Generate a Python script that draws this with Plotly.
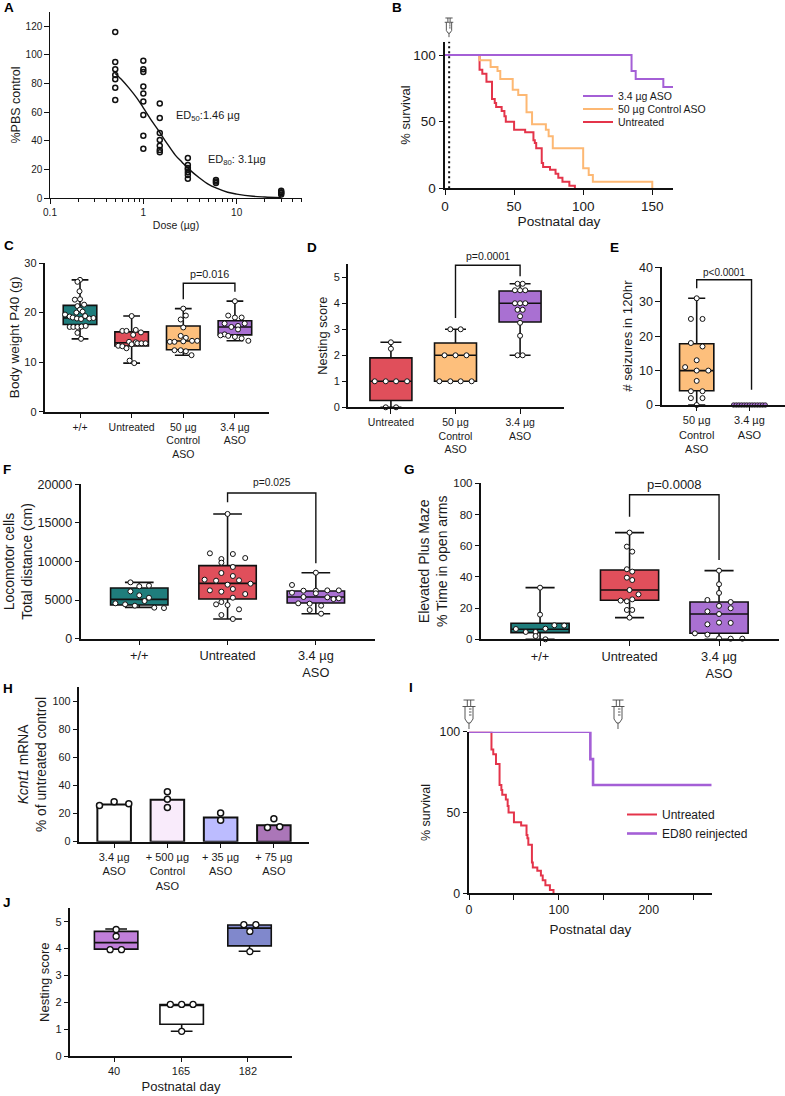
import plotly.graph_objects as go

W, H = 785, 1096
FONT = "Liberation Sans"
INK = "#1a1a1a"
TEAL, RED, ORANGE, PURPLE = "#1f7d7c", "#e04f5b", "#fdbf7c", "#a970d2"
LRED, LORANGE, LPURPLE = "#e4344a", "#fdb873", "#a45fd6"

# ---------- Panel A ----------
a_dose = [0.5]*7 + [1]*9 + [1.5]*7 + [3]*7 + [6]*3 + [30]*4
a_pct = [116, 95, 90, 86, 83, 77, 68.5,
         96, 90, 88, 78, 73, 67.5, 58, 43.5, 34.5,
         66, 56, 45.5, 40.5, 36.5, 33.5, 32,
         28, 23, 21, 20, 18, 16, 13.5,
         12.5, 11.5, 10.5,
         5, 4, 3.5, 2.5]
a_fit_x = [0.5, 0.6, 0.7, 0.85, 1, 1.2, 1.46, 1.8, 2.2, 2.6, 3.1, 4, 5, 6, 8, 10, 15, 20, 30]
a_fit_y = [87, 82, 77, 70, 63, 55, 47, 38, 30, 25, 20, 14, 9.5, 7, 4, 2.7, 1.2, 0.7, 0.2]

# ---------- Panel B / I survival ----------
b_aso_x = [0, 135, 138, 158, 165]
b_aso_y = [100, 88, 82, 76, 76]
b_ctl_x = [0, 25, 33, 38, 40, 49, 53, 59, 63, 73, 75, 78, 100, 104, 107, 150]
b_ctl_y = [100, 96, 91, 88, 82, 74, 70, 57, 48, 44, 39, 30, 15, 10, 5, 0]
unt_x = [0, 25, 27, 30, 34, 36, 37, 41, 43, 44, 50, 58, 64, 65, 66, 70, 71, 76, 80, 82, 85, 90, 94]
unt_y = [100, 89, 86, 80, 67, 64, 61, 58, 54, 50, 44, 42, 36, 34, 30, 19, 16, 14, 11, 8, 5, 2, 0]
i_ed80_x = [0, 135, 138, 270]
i_ed80_y = [100, 83, 67, 67]

# ---------- Panel C ----------
c_labels = ["+/+", "Untreated", "50 µg<br>Control<br>ASO", "3.4 µg<br>ASO"]
c_q1 = [17.6, 13.25, 12.5, 15.5]
c_med = [18.9, 13.9, 14.25, 17.1]
c_q3 = [21.45, 16.1, 17.3, 18.35]
c_lo = [14.7, 9.8, 11.4, 14.3]
c_hi = [26.6, 19.3, 20.8, 22.3]
c_dx = [[0, -.05, -.01, -.1, 0, -.05, .08, 0, -.07, .05, -.29, -.2, -.14, -.06, .02, .1, .18, .26, -.2, -.13, -.05, .03, .11, -.05, .02],
        [0, -.18, -.1, .08, .18, .03, -.05, .08, 0, .11, .19, .27, -.26, -.18, -.1, -.04, .05],
        [0, .05, -.05, 0, -.05, .05, -.26, -.17, 0, .17, .27, -.17, -.05, .05, .16],
        [0, -.13, 0, .13, -.2, -.07, .06, .06, .19, -.2, -.28, -.13, 0, .13, .26]]
c_dy = [[26.6, 26.2, 24.3, 22.6, 22.7, 21.3, 21.6, 20.6, 20, 20.2, 19.6, 19.2, 19, 18.8, 18.7, 19.3, 18.8, 18.9, 17.1, 17.1, 17.1, 17.2, 17.3, 15.9, 14.7],
        [19.3, 16.3, 16.3, 16.5, 16, 15.5, 14.1, 14, 13.6, 13.8, 13.8, 13.8, 13.3, 13.2, 12.8, 10.3, 9.8],
        [20.8, 19.4, 18.6, 17, 15.3, 14.9, 14.1, 14.1, 14.2, 14.3, 14.3, 12.4, 12.4, 12.2, 11.4],
        [22.3, 19.4, 19, 19, 17.8, 17.1, 17.3, 16.6, 17.8, 15.6, 15.4, 15.3, 15.1, 14.8, 14.3]]
c_bx, c_by = [2, 2, 3, 3], [22.7, 25.9, 25.9, 24.2]

# ---------- Panel D ----------
d_labels = ["Untreated", "50 µg<br>Control<br>ASO", "3.4 µg<br>ASO"]
d_q1 = [0.26, 1, 3.28]
d_med = [1, 2, 4]
d_q3 = [1.9, 2.47, 4.47]
d_lo = [0, 1, 2]
d_hi = [2.5, 3, 4.75]
d_dx = [[0, 0, -.25, -.08, .08, .25, -.08, .08],
        [-.08, .08, -.17, 0, .17, -.25, -.08, .08, .25],
        [-.04, .04, -.08, 0, .08, -.08, 0, .08, -.04, .04, 0, 0, 0, -.04, .04]]
d_dy = [[2.5, 2.25, 1, 1, 1, 1, 0, 0],
        [3, 3, 2, 2, 2, 1, 1, 1, 1],
        [4.75, 4.75, 4.5, 4.5, 4.5, 4, 4, 4, 3.75, 3.75, 3.5, 3.25, 2.75, 2, 2]]
d_bx, d_by = [1, 1, 2, 2], [3.43, 5.46, 5.46, 5.04]

# ---------- Panel E ----------
e_labels = ["50 µg<br>Control<br>ASO", "3.4 µg<br>ASO"]
e_q1, e_med, e_q3, e_lo, e_hi = [4.16], [10], [17.8], [0], [31]
e_dx = [0, -.11, .11, -.11, .11, 0, -.22, 0, .22, 0, -.11, .11, -.11, .11, 0]
e_dy = [31, 25, 25, 18, 17, 13, 11, 10, 10, 7, 4, 4, 2, 2, 0]
e_aso_dx = [-.3, -.25, -.2, -.15, -.1, -.05, 0, .05, .1, .15, .2, .25, .3]
e_aso_dy = [0] * 13
e_bx, e_by = [0, 0, 1.04, 1.04], [33.9, 36.4, 36.4, 4.4]

# ---------- Panel F ----------
f_labels = ["+/+", "Untreated", "3.4 µg<br>ASO"]
f_q1 = [4363, 5140, 4620]
f_med = [5100, 7170, 5400]
f_q3 = [6566, 9460, 6180]
f_lo = [4060, 2550, 3240]
f_hi = [7300, 16160, 8550]
f_dx = [[-.1, 0, .11, -.1, 0, .11, .06, -.27, -.16, -.05, .17, .28],
        [0, -.2, .06, .2, -.07, -.07, .06, -.07, .06, -.26, -.13, .13, 0, .26, .06, -.2, -.07, .2, .06, -.07, -.13, 0, .13, -.07, .06],
        [0, -.27, -.14, 0, .13, .26, -.27, 0, -.14, .13, .2, .26, -.2, -.07, .06, -.07, .06]]
f_dy = [[7300, 6780, 6870, 6130, 5620, 5310, 4880, 4580, 4450, 4280, 4020, 3970],
        [16160, 11060, 10970, 10450, 10320, 9850, 9290, 8510, 8120, 7650, 7520, 7560, 7000, 7130, 6440, 6260, 6090, 5790, 5310, 4750, 4450, 4360, 3800, 3070, 2550],
        [8550, 6960, 6220, 6220, 6260, 6260, 5960, 5880, 5400, 5360, 5140, 5230, 4580, 4540, 4280, 3720, 3240]]
f_bx, f_by = [1, 1, 2, 2], [17670, 18880, 18880, 9760]

# ---------- Panel G ----------
g_labels = ["+/+", "Untreated", "3.4 µg<br>ASO"]
g_q1 = [4.3, 25, 3.85]
g_med = [6.4, 31.6, 16.2]
g_q3 = [10.3, 44.4, 23.9]
g_lo = [0, 13.9, 0]
g_hi = [33.1, 68.4, 44]
g_dx = [[0, 0, -.27, -.16, -.05, .06, .16, .27, -.05, .06],
        [0, -.03, .03, -.03, .03, -.03, .03, 0, .1, -.1, -.03, .03, -.03, .03, 0],
        [0, 0, 0, -.13, .13, 0, .13, -.13, 0, -.13, 0, .13, -.27, -.13, 0, .13, .26]]
g_dy = [[33.1, 15.8, 6.6, 4.7, 4.7, 6.8, 9, 8.8, 2.1, 0],
        [68.4, 59.4, 56.2, 44.9, 43.4, 39.5, 38, 31.6, 28.8, 24.8, 24.4, 25.6, 18.8, 18.8, 13.9],
        [44, 35.3, 29.7, 25.2, 23.9, 21.4, 19.9, 17.9, 16.2, 9.6, 10.7, 10.5, 3.8, 3, .6, .4, .4]]
g_bx, g_by = [1, 1, 2, 2], [78.6, 92.7, 92.7, 50.9]

# ---------- Panel H ----------
h_labels = ["3.4 µg<br>ASO", "+ 500 µg<br>Control<br>ASO", "+ 35 µg<br>ASO", "+ 75 µg<br>ASO"]
h_vals = [26.5, 29.8, 17.3, 11.7]
h_fill = ["#ffffff", "#f9ebfb", "#bcbcff", "#ab76b8"]
h_dx = [-.275, 0, .275, 1, 1, 1, 2, 2, 3, 2.88, 3.11]
h_dy = [25.8, 28.4, 27, 35.5, 30.3, 24.4, 20.4, 15.2, 16.4, 10.2, 10.7]

# ---------- Panel J ----------
j_labels = ["40", "165", "182"]
j_pos = [0.03, 1.01, 2.025]
j_q1 = [3.98, 1.18, 4.1]
j_med = [4.22, 1.92, 4.76]
j_q3 = [4.64, 1.92, 4.88]
j_lo = [3.98, 0.92, 3.9]
j_hi = [4.73, 1.92, 4.88]
j_fill = ["#c07fd9", "#ffffff", "#8088cc"]
j_dx = [.03, .03, -.06, .11, .84, 1.01, 1.18, 1.01, 1.94, 2.12, 2.03, 2.03]
j_dy = [4.71, 4.46, 3.96, 3.96, 1.92, 1.92, 1.92, .92, 4.89, 4.89, 4.64, 3.89]

fig = go.Figure()
layout = {}
annotations = []
shapes = []


def fx(px):
    return px / W


def fy(py):
    return 1 - py / H


def text(px, py, s, size=10.5, anchor="center", bold=False, color=INK):
    annotations.append(dict(xref="paper", yref="paper", x=fx(px), y=fy(py), text=f"<b>{s}</b>" if bold else s,
                            showarrow=False, xanchor=anchor, yanchor="middle",
                            font=dict(family=FONT, size=size, color=color)))


def axes(n, left, right, top, bottom, xrange, yrange, xticks, xtext, yticks, ytitle, xtitle=None,
         tick=10.5, title=12, ysoff=6, xsoff=4, lw=1.5, xtype=None, xtick=None, xtitle_size=None):
    suffix = "" if n == 1 else str(n)
    common = dict(showgrid=False, zeroline=False, showline=True, linecolor="#111", linewidth=lw,
                  ticks="outside", ticklen=4.5, tickwidth=1.3, tickcolor="#111",
                  tickfont=dict(family=FONT, size=tick, color=INK))
    xa = dict(domain=[fx(left), fx(right)], range=xrange, anchor="y" + suffix, tickmode="array",
              tickvals=xticks, ticktext=xtext, **common)
    if xtick:
        xa["tickfont"] = dict(family=FONT, size=xtick, color=INK)
    if xtype:
        xa["type"] = xtype
    if xtitle:
        xa["title"] = dict(text=xtitle, font=dict(family=FONT, size=xtitle_size or title, color=INK), standoff=xsoff)
    ya = dict(domain=[fy(bottom), fy(top)], range=yrange, anchor="x" + suffix, tickmode="array",
              tickvals=yticks, ticktext=[str(v) for v in yticks],
              title=dict(text=ytitle, font=dict(family=FONT, size=title, color=INK), standoff=ysoff), **common)
    layout["xaxis" + suffix] = xa
    layout["yaxis" + suffix] = ya
    return "x" + suffix, "y" + suffix


def boxes(x, y, pos, q1, med, q3, lo, hi, fills, width=0.65, lw=1.6):
    for p, a, b, c, d, e, f in zip(pos, q1, med, q3, lo, hi, fills):
        fig.add_trace(go.Box(x=[p], q1=[a], median=[b], q3=[c], lowerfence=[d], upperfence=[e], width=width,
                             whiskerwidth=0.5, fillcolor=f, line=dict(color="#111", width=lw), boxpoints=False,
                             showlegend=False, xaxis=x, yaxis=y, hoverinfo="skip"))


def dots(x, y, dx, dy, size=5, lw=1, fill="white", hollow=False):
    fig.add_trace(go.Scatter(x=dx, y=dy, mode="markers", cliponaxis=False, showlegend=False, xaxis=x, yaxis=y,
                             marker=dict(size=size, color=fill, line=dict(color="#111", width=lw))))


def group_dots(x, y, groups_x, groups_y, pos, **kw):
    for p, gx, gy in zip(pos, groups_x, groups_y):
        dots(x, y, [p + v for v in gx], gy, **kw)


def bracket(x, y, bx, by, lw=1.4):
    fig.add_trace(go.Scatter(x=bx, y=by, mode="lines", cliponaxis=False, showlegend=False, xaxis=x, yaxis=y,
                             line=dict(color="#111", width=lw)))


def syringe(cx, y0, k=1.0):
    def P(dx, dy):
        return f"{fx(cx + dx * k):.5f} {fy(y0 + dy * k):.5f}"
    d = (f"M {P(-5.5, 0)} L {P(5.5, 0)} M {P(-1.7, 0)} L {P(-1.7, 6)} M {P(1.7, 0)} L {P(1.7, 6)} "
         f"M {P(-6.5, 6.5)} L {P(6.5, 6.5)} "
         f"M {P(-4, 6.5)} L {P(-4, 19)} L {P(-1.3, 23)} L {P(1.3, 23)} L {P(4, 19)} L {P(4, 6.5)} "
         f"M {P(0, 23)} L {P(0, 29)} M {P(0, 9)} L {P(2.5, 9)} M {P(0, 12)} L {P(2.5, 12)} M {P(0, 15)} L {P(2.5, 15)}")
    shapes.append(dict(type="path", xref="paper", yref="paper", path=d, line=dict(color="#444", width=0.9)))


# Panel A
x, y = axes(1, 50, 302, 12, 198, [-1, 1.7], [0, 130], [0.1, 1, 10], ["0.1", "1", "10"],
            [0, 20, 40, 60, 80, 100, 120], "%PBS control", "Dose (µg)", tick=10, title=12.5, xsoff=4, ysoff=2,
            xtype="log", lw=1.4, xtitle_size=10.5)
layout["xaxis"]["minor"] = dict(ticks="outside", ticklen=2.5, tickwidth=1, tickcolor="#111", tickmode="array",
                                tickvals=[.2, .3, .4, .5, .6, .7, .8, .9, 2, 3, 4, 5, 6, 7, 8, 9, 20, 30, 40, 50])
fig.add_trace(go.Scatter(x=a_fit_x, y=a_fit_y, mode="lines", line=dict(color="#111", width=1.4, shape="spline"),
                         showlegend=False, xaxis=x, yaxis=y))
dots(x, y, a_dose, a_pct, size=5, lw=1.5, fill="rgba(255,255,255,0)")
text(174, 116, "ED<sub>50</sub>:1.46 µg", 11, "left")
text(206, 160, "ED<sub>80</sub>: 3.1µg", 11, "left")

# Panel B
x, y = axes(2, 445, 673, 41.7, 188.3, [0, 165], [0, 110], [0, 50, 100, 150], ["0", "50", "100", "150"],
            [0, 50, 100], "% survival", "Postnatal day", tick=13.5, title=13, lw=2, ysoff=0, xsoff=2,
            xtitle_size=13.7)
fig.add_trace(go.Scatter(x=[3, 3], y=[0, 112], mode="lines", cliponaxis=False, showlegend=False, xaxis=x, yaxis=y,
                         line=dict(color="#111", width=2, dash="2px,3px")))
for sx, sy, c, n, lg in [(unt_x, unt_y, LRED, "Untreated", "legend3"),
                         (b_ctl_x, b_ctl_y, LORANGE, "50 µg Control ASO", "legend2"),
                         (b_aso_x, b_aso_y, LPURPLE, "3.4 µg ASO", "legend")]:
    fig.add_trace(go.Scatter(x=sx, y=sy, mode="lines", name=n, legend=lg, line=dict(color=c, width=2, shape="hv"),
                             cliponaxis=False, xaxis=x, yaxis=y))
syringe(449, 18, 0.66)

# Panel C
c_pos = [0, 1, 2, 3]
x, y = axes(3, 45, 269, 263, 411.7, [-0.678, 3.66], [0, 30], c_pos, c_labels, [0, 10, 20, 30],
            "Body weight P40 (g)", tick=11, title=13.5, ysoff=2, xtick=10.5)
boxes(x, y, c_pos, c_q1, c_med, c_q3, c_lo, c_hi, [TEAL, RED, ORANGE, PURPLE])
group_dots(x, y, c_dx, c_dy, c_pos)
bracket(x, y, c_bx, c_by)
text(209, 274, "p=0.016", 10.8)

# Panel D
d_pos = [0, 1, 2]
x, y = axes(4, 348.3, 564, 264, 407.3, [-0.66, 2.68], [0, 5.51], d_pos, d_labels, [0, 1, 2, 3, 4, 5],
            "Nesting score", tick=11, title=12.8, ysoff=3, xtick=10.5)
boxes(x, y, d_pos, d_q1, d_med, d_q3, d_lo, d_hi, [RED, ORANGE, PURPLE])
group_dots(x, y, d_dx, d_dy, d_pos)
bracket(x, y, d_bx, d_by)
text(488, 256, "p=0.0001", 10.5)

# Panel E
x, y = axes(5, 661.7, 785, 267.3, 405, [-0.664, 1.675], [0, 40], [0, 1], e_labels, [0, 10, 20, 30, 40],
            "# seizures in 120hr", tick=12.5, title=13.2, ysoff=3, xtick=11)
boxes(x, y, [0], e_q1, e_med, e_q3, e_lo, e_hi, [ORANGE])
dots(x, y, e_dx, e_dy)
dots(x, y, [1 + v for v in e_aso_dx], e_aso_dy, size=4.5, lw=0.8, fill=PURPLE)
bracket(x, y, e_bx, e_by)
text(724, 273, "p&lt;0.0001", 10)

# Panel F
f_pos = [0, 1, 2]
x, y = axes(6, 81, 375, 484.3, 638.7, [-0.66, 2.67], [0, 20000], f_pos, f_labels,
            [0, 5000, 10000, 15000, 20000], "Locomotor cells<br>Total distance (cm)", tick=12.5, title=13.9, ysoff=2,
            xtick=12.8)
boxes(x, y, f_pos, f_q1, f_med, f_q3, f_lo, f_hi, [TEAL, RED, PURPLE])
group_dots(x, y, f_dx, f_dy, f_pos)
bracket(x, y, f_bx, f_by)
text(272, 482, "p=0.025", 10.3)

# Panel G
g_pos = [0, 1, 2]
x, y = axes(7, 481, 779, 483.3, 639.3, [-0.66, 2.67], [0, 100], g_pos, g_labels, [0, 20, 40, 60, 80, 100],
            "Elevated Plus Maze<br>% Time in open arms", tick=11.5, title=14, ysoff=2, xtick=12.8)
boxes(x, y, g_pos, g_q1, g_med, g_q3, g_lo, g_hi, [TEAL, RED, PURPLE])
group_dots(x, y, g_dx, g_dy, g_pos)
bracket(x, y, g_bx, g_by)
text(674, 484, "p=0.0008", 13)

# Panel H
h_pos = [0, 1, 2, 3]
x, y = axes(8, 79, 309, 687.3, 841.7, [-0.66, 3.66], [0, 110], h_pos, h_labels, [0, 20, 40, 60, 80, 100],
            "<i>Kcnt1</i> mRNA<br>% of untreated control", tick=10.8, title=13.8, ysoff=3, xtick=11)
fig.add_trace(go.Bar(x=h_pos, y=h_vals, width=0.63, marker=dict(color=h_fill, line=dict(color="#111", width=2)),
                     showlegend=False, xaxis=x, yaxis=y))
dots(x, y, h_dx, h_dy, size=6, lw=1.5)

# Panel I
x, y = axes(9, 469, 711.7, 731.7, 893.3, [0, 270], [0, 100], [0, 100, 200], ["0", "100", "200"],
            [0, 50, 100], "% survival", "Postnatal day", tick=12.4, title=12.5, ysoff=6, xsoff=8, xtitle_size=13.5)
layout["xaxis9"]["minor"] = dict(ticks="outside", ticklen=4.5, tickwidth=1.3, tickcolor="#111", tickmode="array",
                                 tickvals=[50, 150, 250])
fig.add_trace(go.Scatter(x=unt_x, y=unt_y, mode="lines", name="Untreated", legend="legend4", cliponaxis=False,
                         line=dict(color=LRED, width=2, shape="hv"), xaxis=x, yaxis=y))
fig.add_trace(go.Scatter(x=i_ed80_x, y=i_ed80_y, mode="lines", name="ED80 reinjected", legend="legend4",
                         cliponaxis=False, line=dict(color=LPURPLE, width=2.6, shape="hv"), xaxis=x, yaxis=y))
syringe(469, 700, 1.0)
syringe(618, 700, 1.0)

# Panel J
j_axis_pos = [0, 1, 2]
x, y = axes(10, 70, 292, 908.3, 1056, [-0.66, 2.66], [0, 5.5], j_axis_pos, j_labels, [0, 1, 2, 3, 4, 5],
            "Nesting score", "Postnatal day", tick=11, title=13, ysoff=3, xsoff=5)
boxes(x, y, j_pos, j_q1, j_med, j_q3, j_lo, j_hi, j_fill)
dots(x, y, j_dx, j_dy, size=6, lw=1.3)

# Panel letters
for lab, lx, ly in [("A", 2, 8), ("B", 390, 8), ("C", 2, 246), ("D", 305, 247), ("E", 608, 247), ("F", 1, 470),
                    ("G", 402, 470), ("H", 1, 688), ("I", 407, 687), ("J", 1, 902)]:
    text(lx, ly, lab, 13.5, "left", bold=True, color="black")


def legend_at(px, py, size=10.5):
    return dict(x=fx(px), y=fy(py), xanchor="left", yanchor="middle", bgcolor="rgba(0,0,0,0)", borderwidth=0,
                font=dict(family=FONT, size=size, color=INK), itemwidth=30, tracegroupgap=0)


layout.update(legend=legend_at(578, 96), legend2=legend_at(578, 109), legend3=legend_at(578, 122),
              legend4=legend_at(622, 824, 12))

fig.update_layout(width=W, height=H, margin=dict(l=0, r=0, t=0, b=0, autoexpand=False), paper_bgcolor="white",
                  plot_bgcolor="white", font=dict(family=FONT, size=11, color=INK), boxmode="overlay",
                  annotations=annotations, shapes=shapes, **layout)
fig.write_html("out.html", post_script="document.body.style.margin='0';", config=dict(displayModeBar=False))
